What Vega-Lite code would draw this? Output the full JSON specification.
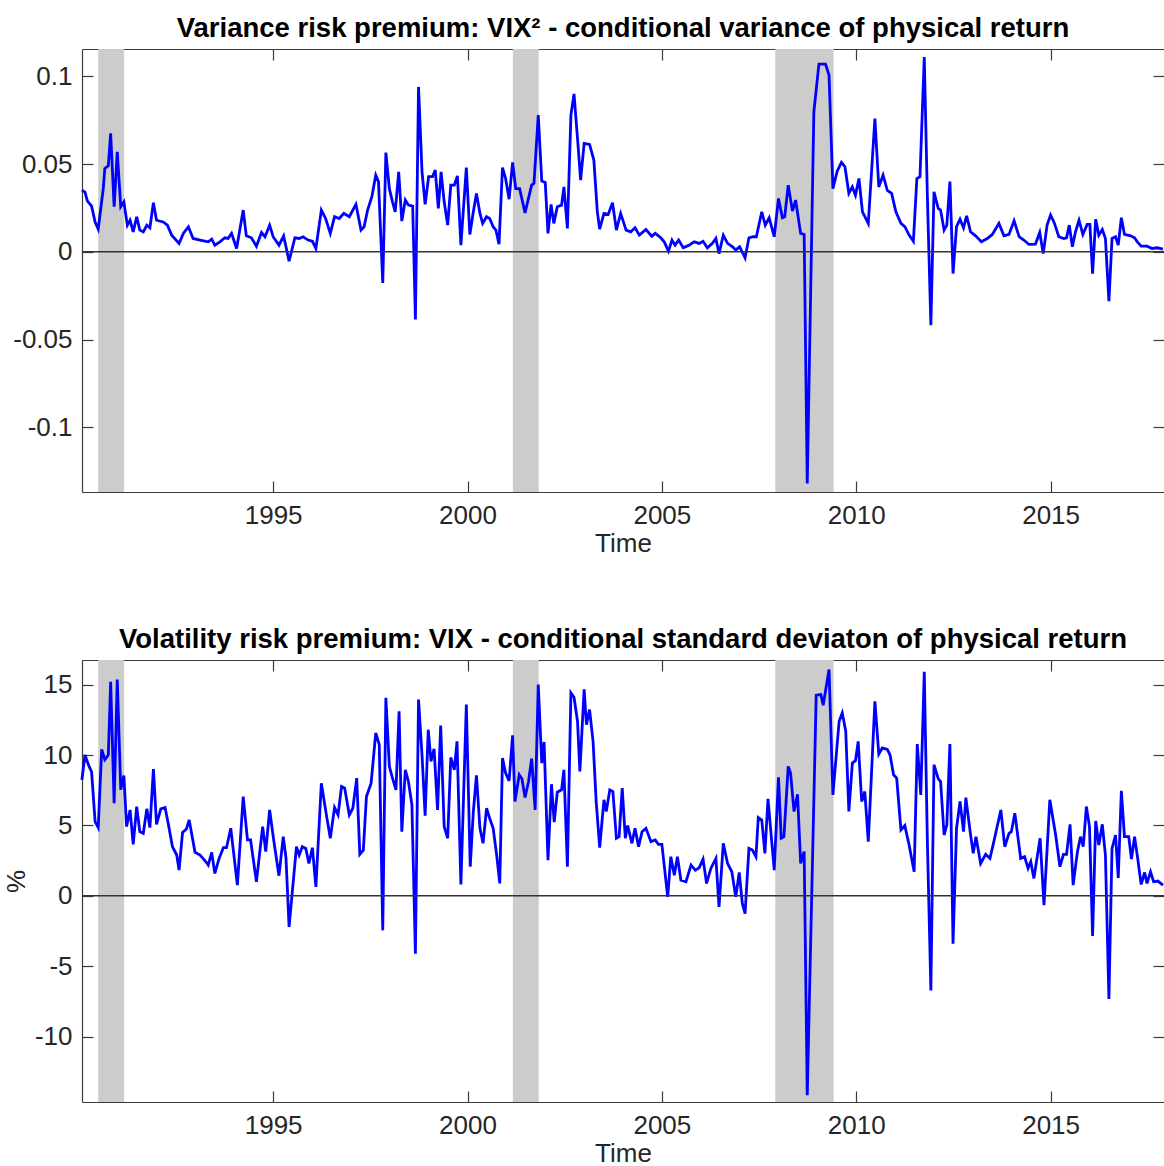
{
  "$schema": "https://vega.github.io/schema/vega-lite/v6.json",
  "background": "white",
  "padding": {"left": 3, "top": 14, "right": 0, "bottom": 0},
  "spacing": 69,
  "config": {
    "font": "Liberation Sans",
    "view": {"stroke": null},
    "axis": {
      "grid": false,
      "labelFont": "Liberation Sans",
      "labelFontSize": 26,
      "labelColor": "#262626",
      "titleFont": "Liberation Sans",
      "titleFontSize": 26,
      "titleFontWeight": "normal",
      "titleColor": "#262626",
      "domainColor": "#3a3a3a",
      "domainWidth": 1.2,
      "tickColor": "#3a3a3a",
      "tickWidth": 1.2,
      "tickSize": -11,
      "labelPadding": 21
    },
    "title": {"font": "Liberation Sans", "fontSize": 27.5, "fontWeight": "bold", "color": "#000000", "anchor": "middle", "offset": 6}
  },
  "datasets": {
    "rec": [{"s": 1990.5, "e": 1991.167}, {"s": 2001.167, "e": 2001.833}, {"s": 2007.917, "e": 2009.417}],
    "vrp": [
      {"t":1990.08,"v":0.0352},{"t":1990.16,"v":0.034},{"t":1990.22,"v":0.029},{"t":1990.33,"v":0.026},{"t":1990.42,"v":0.017},{"t":1990.50,"v":0.013},{"t":1990.63,"v":0.036},{"t":1990.67,"v":0.0475},{"t":1990.76,"v":0.049},{"t":1990.82,"v":0.0675},{"t":1990.91,"v":0.0257},{"t":1990.99,"v":0.057},{"t":1991.08,"v":0.0257},{"t":1991.16,"v":0.0285},{"t":1991.25,"v":0.0152},{"t":1991.32,"v":0.018},{"t":1991.40,"v":0.0114},{"t":1991.49,"v":0.02},{"t":1991.57,"v":0.0124},{"t":1991.66,"v":0.0114},{"t":1991.75,"v":0.0152},{"t":1991.83,"v":0.0137},{"t":1991.92,"v":0.028},{"t":1992.00,"v":0.018},{"t":1992.17,"v":0.017},{"t":1992.28,"v":0.0152},{"t":1992.39,"v":0.0095},{"t":1992.58,"v":0.0048},{"t":1992.69,"v":0.0105},{"t":1992.82,"v":0.0143},{"t":1992.94,"v":0.0076},{"t":1993.12,"v":0.0067},{"t":1993.33,"v":0.0057},{"t":1993.42,"v":0.0072},{"t":1993.50,"v":0.0038},{"t":1993.63,"v":0.0057},{"t":1993.76,"v":0.008},{"t":1993.84,"v":0.0076},{"t":1993.93,"v":0.0105},{"t":1994.06,"v":0.0019},{"t":1994.23,"v":0.0238},{"t":1994.31,"v":0.0091},{"t":1994.44,"v":0.008},{"t":1994.57,"v":0.0032},{"t":1994.70,"v":0.011},{"t":1994.79,"v":0.0086},{"t":1994.91,"v":0.0152},{"t":1995.00,"v":0.0086},{"t":1995.15,"v":0.0038},{"t":1995.27,"v":0.0091},{"t":1995.41,"v":-0.0053},{"t":1995.56,"v":0.008},{"t":1995.67,"v":0.0076},{"t":1995.77,"v":0.0086},{"t":1995.90,"v":0.0067},{"t":1996.01,"v":0.006},{"t":1996.10,"v":0.0019},{"t":1996.24,"v":0.0238},{"t":1996.35,"v":0.019},{"t":1996.47,"v":0.0105},{"t":1996.58,"v":0.02},{"t":1996.70,"v":0.019},{"t":1996.82,"v":0.022},
      {"t":1996.96,"v":0.02},{"t":1997.13,"v":0.027},{"t":1997.26,"v":0.0124},{"t":1997.34,"v":0.0143},{"t":1997.43,"v":0.0238},{"t":1997.54,"v":0.0314},{"t":1997.64,"v":0.0437},{"t":1997.71,"v":0.04},{"t":1997.82,"v":-0.0177},{"t":1997.90,"v":0.0566},{"t":1997.99,"v":0.036},{"t":1998.07,"v":0.0285},{"t":1998.14,"v":0.0228},{"t":1998.23,"v":0.0456},{"t":1998.31,"v":0.0175},{"t":1998.40,"v":0.0295},{"t":1998.48,"v":0.0266},{"t":1998.59,"v":0.026},{"t":1998.66,"v":-0.0386},{"t":1998.74,"v":0.094},{"t":1998.83,"v":0.0456},{"t":1998.91,"v":0.027},{"t":1999.00,"v":0.0428},{"t":1999.10,"v":0.0428},{"t":1999.17,"v":0.0466},{"t":1999.25,"v":0.0247},{"t":1999.32,"v":0.0456},{"t":1999.40,"v":0.0285},{"t":1999.49,"v":0.0152},{"t":1999.57,"v":0.038},{"t":1999.66,"v":0.038},{"t":1999.74,"v":0.0433},{"t":1999.83,"v":0.0038},{"t":1999.97,"v":0.048},{"t":2000.06,"v":0.0099},{"t":2000.15,"v":0.0228},{"t":2000.23,"v":0.0333},{"t":2000.32,"v":0.0219},{"t":2000.39,"v":0.0162},{"t":2000.49,"v":0.02},{"t":2000.57,"v":0.019},{"t":2000.66,"v":0.0143},{"t":2000.73,"v":0.0124},{"t":2000.81,"v":0.0044},{"t":2000.90,"v":0.048},{"t":2000.98,"v":0.0418},{"t":2001.07,"v":0.03},{"t":2001.16,"v":0.051},{"t":2001.24,"v":0.036},{"t":2001.34,"v":0.036},{"t":2001.48,"v":0.0222},{"t":2001.65,"v":0.038},{"t":2001.71,"v":0.039},{"t":2001.82,"v":0.0779},{"t":2001.91,"v":0.0403},{"t":2002.00,"v":0.0395},{"t":2002.07,"v":0.0105},{"t":2002.15,"v":0.027},{"t":2002.22,"v":0.0162},{"t":2002.31,"v":0.0257},{"t":2002.42,"v":0.0266},{"t":2002.48,"v":0.037},{"t":2002.57,"v":0.0133},{"t":2002.66,"v":0.0779},{"t":2002.74,"v":0.090},{"t":2002.83,"v":0.0646},{"t":2002.91,"v":0.0409},{"t":2003.00,"v":0.0618},{"t":2003.14,"v":0.0612},{"t":2003.25,"v":0.0523},{"t":2003.34,"v":0.0228},{"t":2003.40,"v":0.0129},{"t":2003.51,"v":0.0219},{"t":2003.62,"v":0.0213},{"t":2003.73,"v":0.028},{"t":2003.83,"v":0.0124},{"t":2003.94,"v":0.0219},
      {"t":2004.08,"v":0.0124},{"t":2004.20,"v":0.0114},{"t":2004.31,"v":0.0137},{"t":2004.42,"v":0.0095},{"t":2004.59,"v":0.0127},{"t":2004.74,"v":0.0089},{"t":2004.83,"v":0.0105},{"t":2004.97,"v":0.008},{"t":2005.06,"v":0.0057},{"t":2005.17,"v":0.0004},{"t":2005.26,"v":0.0067},{"t":2005.34,"v":0.0038},{"t":2005.43,"v":0.0067},{"t":2005.55,"v":0.0023},{"t":2005.70,"v":0.0038},{"t":2005.83,"v":0.0057},{"t":2005.96,"v":0.0048},{"t":2006.06,"v":0.006},{"t":2006.17,"v":0.0023},{"t":2006.30,"v":0.0048},{"t":2006.39,"v":0.0076},{"t":2006.47,"v":-0.001},{"t":2006.58,"v":0.0095},{"t":2006.69,"v":0.0048},{"t":2006.82,"v":0.0029},{"t":2006.90,"v":0.001},{"t":2007.00,"v":0.0029},{"t":2007.14,"v":-0.0034},{"t":2007.24,"v":0.008},{"t":2007.35,"v":0.0086},{"t":2007.43,"v":0.0086},{"t":2007.57,"v":0.0228},{"t":2007.66,"v":0.0152},{"t":2007.76,"v":0.0194},{"t":2007.89,"v":0.0086},{"t":2008.00,"v":0.0304},{"t":2008.10,"v":0.0194},{"t":2008.16,"v":0.02},{"t":2008.25,"v":0.038},{"t":2008.36,"v":0.0232},{"t":2008.44,"v":0.0295},{"t":2008.57,"v":0.0105},{"t":2008.66,"v":0.0099},{"t":2008.74,"v":-0.132},{"t":2008.91,"v":0.0798},{"t":2009.04,"v":0.107},{"t":2009.21,"v":0.107},{"t":2009.30,"v":0.1007},{"t":2009.40,"v":0.036},{"t":2009.51,"v":0.046},{"t":2009.62,"v":0.051},{"t":2009.71,"v":0.0485},{"t":2009.81,"v":0.0333},{"t":2009.90,"v":0.037},{"t":2009.98,"v":0.0323},{"t":2010.07,"v":0.0418},{"t":2010.16,"v":0.0228},{"t":2010.31,"v":0.0162},{"t":2010.48,"v":0.076},{"t":2010.58,"v":0.037},{"t":2010.69,"v":0.0437},
      {"t":2010.80,"v":0.035},{"t":2010.91,"v":0.0333},{"t":2011.02,"v":0.0228},{"t":2011.15,"v":0.0162},{"t":2011.25,"v":0.0143},{"t":2011.36,"v":0.0095},{"t":2011.47,"v":0.006},{"t":2011.56,"v":0.0418},{"t":2011.64,"v":0.0428},{"t":2011.75,"v":0.111},{"t":2011.83,"v":0.0314},{"t":2011.92,"v":-0.0418},{"t":2012.00,"v":0.0342},{"t":2012.11,"v":0.0247},{"t":2012.17,"v":0.0238},{"t":2012.26,"v":0.0124},{"t":2012.33,"v":0.0152},{"t":2012.41,"v":0.04},{"t":2012.49,"v":-0.0124},{"t":2012.58,"v":0.0143},{"t":2012.67,"v":0.0186},{"t":2012.76,"v":0.0137},{"t":2012.84,"v":0.0205},{"t":2012.94,"v":0.0114},{"t":2013.07,"v":0.0091},{"t":2013.22,"v":0.0057},{"t":2013.37,"v":0.0076},{"t":2013.50,"v":0.0099},{"t":2013.67,"v":0.0162},{"t":2013.80,"v":0.0091},{"t":2013.93,"v":0.0099},{"t":2014.06,"v":0.0177},{"t":2014.19,"v":0.0086},{"t":2014.31,"v":0.0067},{"t":2014.44,"v":0.0042},{"t":2014.61,"v":0.0044},{"t":2014.72,"v":0.011},{"t":2014.81,"v":-0.001},{"t":2014.91,"v":0.0152},{"t":2015.00,"v":0.021},{"t":2015.10,"v":0.0162},{"t":2015.21,"v":0.0086},{"t":2015.34,"v":0.0076},{"t":2015.41,"v":0.008},{"t":2015.48,"v":0.0152},{"t":2015.56,"v":0.0029},{"t":2015.64,"v":0.0114},{"t":2015.73,"v":0.018},{"t":2015.83,"v":0.0099},{"t":2015.94,"v":0.0156},{"t":2016.01,"v":0.0156},{"t":2016.08,"v":-0.0124},{"t":2016.16,"v":0.0186},{"t":2016.24,"v":0.0095},{"t":2016.33,"v":0.0127},{"t":2016.41,"v":0.0076},{"t":2016.50,"v":-0.0281},{"t":2016.58,"v":0.0076},{"t":2016.67,"v":0.0086},{"t":2016.74,"v":0.0038},{"t":2016.82,"v":0.0194},{"t":2016.90,"v":0.0099},{"t":2017.06,"v":0.0091},{"t":2017.16,"v":0.008},{"t":2017.23,"v":0.0057},{"t":2017.33,"v":0.0032},{"t":2017.48,"v":0.0032},{"t":2017.61,"v":0.0019},{"t":2017.74,"v":0.0023},{"t":2017.89,"v":0.0015}
    ],
    "vol": [
      {"t":1990.08,"v":8.24},{"t":1990.16,"v":10.0},{"t":1990.25,"v":9.3},{"t":1990.33,"v":8.8},{"t":1990.42,"v":5.27},{"t":1990.50,"v":4.85},{"t":1990.59,"v":10.4},{"t":1990.67,"v":9.67},{"t":1990.76,"v":10.0},{"t":1990.82,"v":15.2},{"t":1990.91,"v":6.58},{"t":1990.99,"v":15.37},{"t":1991.08,"v":7.53},{"t":1991.16,"v":8.55},{"t":1991.23,"v":4.92},{"t":1991.32,"v":6.1},{"t":1991.40,"v":3.66},{"t":1991.49,"v":6.34},{"t":1991.57,"v":4.56},{"t":1991.66,"v":4.44},{"t":1991.75,"v":6.18},{"t":1991.83,"v":4.85},{"t":1991.92,"v":9.0},{"t":1992.00,"v":5.08},{"t":1992.11,"v":6.18},{"t":1992.22,"v":6.27},{"t":1992.30,"v":5.15},{"t":1992.41,"v":3.49},{"t":1992.52,"v":2.9},{"t":1992.58,"v":1.83},{"t":1992.67,"v":4.51},{"t":1992.77,"v":4.75},{"t":1992.84,"v":5.39},{"t":1992.99,"v":3.09},{"t":1993.12,"v":2.9},{"t":1993.27,"v":2.42},{"t":1993.33,"v":2.19},{"t":1993.42,"v":3.09},{"t":1993.50,"v":1.59},{"t":1993.61,"v":2.66},{"t":1993.72,"v":3.42},{"t":1993.80,"v":3.42},{"t":1993.91,"v":4.8},{"t":1994.08,"v":0.76},{"t":1994.23,"v":7.05},{"t":1994.34,"v":3.97},{"t":1994.42,"v":3.97},{"t":1994.57,"v":1.0},{"t":1994.73,"v":4.92},{"t":1994.81,"v":3.14},{"t":1994.91,"v":6.1},{"t":1995.02,"v":3.85},{"t":1995.15,"v":1.43},{"t":1995.26,"v":4.2},{"t":1995.33,"v":2.71},{"t":1995.41,"v":-2.21},{"t":1995.60,"v":3.49},{"t":1995.67,"v":2.9},{"t":1995.75,"v":3.49},{"t":1995.84,"v":3.37},{"t":1995.92,"v":2.3},{"t":1996.01,"v":3.42},{"t":1996.10,"v":0.64},{"t":1996.24,"v":8.0},{"t":1996.37,"v":5.75},{"t":1996.47,"v":4.09},{"t":1996.58,"v":6.27},{"t":1996.67,"v":5.75},{"t":1996.76,"v":7.77},{"t":1996.84,"v":7.65},
      {"t":1996.96,"v":5.75},{"t":1997.05,"v":6.22},{"t":1997.15,"v":8.36},{"t":1997.23,"v":2.95},{"t":1997.32,"v":3.25},{"t":1997.40,"v":7.05},{"t":1997.52,"v":8.0},{"t":1997.64,"v":11.57},{"t":1997.73,"v":10.74},{"t":1997.82,"v":-2.45},{"t":1997.90,"v":14.06},{"t":1997.99,"v":9.19},{"t":1998.07,"v":8.36},{"t":1998.16,"v":7.53},{"t":1998.24,"v":13.1},{"t":1998.31,"v":4.56},{"t":1998.40,"v":8.95},{"t":1998.48,"v":8.12},{"t":1998.57,"v":6.46},{"t":1998.66,"v":-4.11},{"t":1998.74,"v":13.94},{"t":1998.83,"v":10.0},{"t":1998.91,"v":5.7},{"t":1998.99,"v":11.8},{"t":1999.06,"v":9.55},{"t":1999.14,"v":10.45},{"t":1999.23,"v":6.1},{"t":1999.31,"v":12.1},{"t":1999.40,"v":4.92},{"t":1999.49,"v":4.09},{"t":1999.57,"v":9.83},{"t":1999.66,"v":8.95},{"t":1999.73,"v":10.97},{"t":1999.83,"v":0.81},{"t":1999.97,"v":13.59},{"t":2000.07,"v":2.07},{"t":2000.15,"v":5.99},{"t":2000.23,"v":8.55},{"t":2000.32,"v":4.8},{"t":2000.40,"v":3.73},{"t":2000.49,"v":6.22},{"t":2000.57,"v":5.51},{"t":2000.66,"v":4.8},{"t":2000.75,"v":2.9},{"t":2000.83,"v":0.88},{"t":2000.90,"v":9.79},{"t":2000.98,"v":8.72},{"t":2001.07,"v":8.17},{"t":2001.16,"v":11.4},{"t":2001.22,"v":6.7},{"t":2001.33,"v":8.6},{"t":2001.40,"v":8.31},{"t":2001.48,"v":6.98},{"t":2001.57,"v":8.12},{"t":2001.65,"v":9.74},{"t":2001.74,"v":6.1},{"t":2001.82,"v":15.0},{"t":2001.91,"v":9.43},{"t":2001.97,"v":10.93},{"t":2002.07,"v":2.54},{"t":2002.16,"v":7.93},{"t":2002.23,"v":5.23},{"t":2002.31,"v":7.36},{"t":2002.42,"v":7.53},{"t":2002.48,"v":8.95},{"t":2002.57,"v":2.07},{"t":2002.66,"v":14.42},{"t":2002.74,"v":14.1},{"t":2002.83,"v":12.4},{"t":2002.89,"v":8.84},{"t":2003.00,"v":14.66},{"t":2003.06,"v":12.16},{"t":2003.14,"v":13.23},{"t":2003.23,"v":10.97},{"t":2003.31,"v":6.7},{"t":2003.40,"v":3.42},{"t":2003.51,"v":6.82},{"t":2003.57,"v":5.99},{"t":2003.66,"v":7.53},{"t":2003.74,"v":7.41},{"t":2003.83,"v":4.09},{"t":2003.90,"v":4.2},{"t":2003.98,"v":7.65},
      {"t":2004.06,"v":4.09},{"t":2004.12,"v":4.99},{"t":2004.23,"v":3.73},{"t":2004.31,"v":4.8},{"t":2004.40,"v":3.49},{"t":2004.49,"v":4.56},{"t":2004.59,"v":4.8},{"t":2004.72,"v":3.85},{"t":2004.83,"v":3.97},{"t":2004.91,"v":3.66},{"t":2005.00,"v":3.66},{"t":2005.15,"v":-0.07},{"t":2005.23,"v":2.78},{"t":2005.32,"v":1.47},{"t":2005.40,"v":2.78},{"t":2005.49,"v":1.12},{"t":2005.62,"v":1.0},{"t":2005.75,"v":2.19},{"t":2005.86,"v":1.83},{"t":2005.96,"v":2.0},{"t":2006.06,"v":2.61},{"t":2006.15,"v":0.88},{"t":2006.26,"v":1.95},{"t":2006.39,"v":2.66},{"t":2006.47,"v":-0.78},{"t":2006.58,"v":3.73},{"t":2006.69,"v":2.3},{"t":2006.80,"v":1.71},{"t":2006.90,"v":-0.07},{"t":2006.99,"v":1.66},{"t":2007.07,"v":-0.55},{"t":2007.14,"v":-1.26},{"t":2007.24,"v":3.37},{"t":2007.33,"v":3.25},{"t":2007.42,"v":2.78},{"t":2007.48,"v":5.56},{"t":2007.57,"v":5.39},{"t":2007.65,"v":3.02},{"t":2007.73,"v":6.89},{"t":2007.89,"v":1.83},{"t":2008.00,"v":8.41},{"t":2008.07,"v":4.09},{"t":2008.14,"v":4.2},{"t":2008.25,"v":9.19},{"t":2008.31,"v":8.72},{"t":2008.40,"v":5.99},{"t":2008.49,"v":7.22},{"t":2008.57,"v":2.3},{"t":2008.66,"v":3.14},{"t":2008.74,"v":-14.16},{"t":2008.97,"v":14.25},{"t":2009.09,"v":14.3},{"t":2009.15,"v":13.54},{"t":2009.30,"v":16.08},{"t":2009.40,"v":7.17},{"t":2009.56,"v":12.4},{"t":2009.64,"v":12.99},{"t":2009.73,"v":11.69},{"t":2009.81,"v":5.99},{"t":2009.90,"v":9.43},{"t":2009.98,"v":9.6},{"t":2010.05,"v":10.97},{"t":2010.14,"v":6.7},{"t":2010.22,"v":7.41},{"t":2010.31,"v":3.85},{"t":2010.48,"v":13.82},{"t":2010.58,"v":10.07},{"t":2010.67,"v":10.5},
      {"t":2010.80,"v":10.4},{"t":2010.87,"v":10.0},{"t":2010.96,"v":8.6},{"t":2011.04,"v":8.36},{"t":2011.15,"v":4.68},{"t":2011.25,"v":4.99},{"t":2011.36,"v":3.61},{"t":2011.49,"v":1.71},{"t":2011.57,"v":10.78},{"t":2011.66,"v":7.17},{"t":2011.75,"v":15.91},{"t":2011.83,"v":3.85},{"t":2011.92,"v":-6.72},{"t":2012.00,"v":9.31},{"t":2012.11,"v":8.31},{"t":2012.17,"v":8.12},{"t":2012.26,"v":4.32},{"t":2012.33,"v":5.04},{"t":2012.41,"v":10.78},{"t":2012.49,"v":-3.4},{"t":2012.58,"v":4.8},{"t":2012.67,"v":6.7},{"t":2012.76,"v":4.56},{"t":2012.82,"v":6.98},{"t":2012.93,"v":4.56},{"t":2013.01,"v":3.02},{"t":2013.08,"v":4.2},{"t":2013.20,"v":2.3},{"t":2013.33,"v":2.95},{"t":2013.44,"v":2.66},{"t":2013.54,"v":3.85},{"t":2013.72,"v":6.1},{"t":2013.82,"v":3.49},{"t":2013.93,"v":4.44},{"t":2013.99,"v":4.56},{"t":2014.08,"v":5.87},{"t":2014.23,"v":2.66},{"t":2014.33,"v":2.78},{"t":2014.42,"v":1.95},{"t":2014.49,"v":2.42},{"t":2014.57,"v":1.24},{"t":2014.73,"v":4.09},{"t":2014.83,"v":-0.67},{"t":2014.98,"v":6.82},{"t":2015.13,"v":4.32},{"t":2015.24,"v":2.07},{"t":2015.33,"v":2.95},{"t":2015.41,"v":2.95},{"t":2015.50,"v":5.08},{"t":2015.58,"v":0.76},{"t":2015.69,"v":3.14},{"t":2015.77,"v":4.2},{"t":2015.84,"v":3.49},{"t":2015.92,"v":6.34},{"t":2016.00,"v":4.92},{"t":2016.08,"v":-2.85},{"t":2016.16,"v":5.32},{"t":2016.24,"v":3.61},{"t":2016.33,"v":5.08},{"t":2016.41,"v":2.9},{"t":2016.50,"v":-7.32},{"t":2016.58,"v":3.37},{"t":2016.67,"v":4.32},{"t":2016.74,"v":1.28},{"t":2016.82,"v":7.46},{"t":2016.90,"v":4.2},{"t":2017.01,"v":4.2},{"t":2017.08,"v":2.61},{"t":2017.16,"v":4.2},{"t":2017.24,"v":2.66},{"t":2017.33,"v":0.81},{"t":2017.42,"v":1.66},{"t":2017.48,"v":0.88},{"t":2017.57,"v":1.71},{"t":2017.65,"v":1.0},{"t":2017.76,"v":1.05},{"t":2017.89,"v":0.76}
    ]
  },
  "vconcat": [
    {
      "width": 1082,
      "height": 443,
      "title": {"text": "Variance risk premium: VIX² - conditional variance of physical return"},
      "layer": [
        {
          "data": {"name": "rec"},
          "mark": {"type": "rect", "color": "#cccccc"},
          "encoding": {
            "x": {"field": "s", "type": "quantitative", "scale": {"domain": [1990.083, 2017.917], "nice": false, "zero": false},
                  "axis": {"orient": "bottom", "values": [1995, 2000, 2005, 2010, 2015], "format": "d", "title": "Time", "titlePadding": 2}},
            "x2": {"field": "e"}
          }
        },
        {
          "data": {"name": "vrp"},
          "mark": {"type": "line", "color": "#0000ff", "strokeWidth": 2.8},
          "encoding": {
            "x": {"field": "t", "type": "quantitative", "scale": {"domain": [1990.083, 2017.917], "nice": false, "zero": false},
                  "axis": {"orient": "top", "values": [1995, 2000, 2005, 2010, 2015], "labels": false, "title": null}},
            "y": {"field": "v", "type": "quantitative", "scale": {"domain": [-0.1369, 0.1156], "nice": false, "zero": false},
                  "axis": {"orient": "left", "values": [-0.1, -0.05, 0, 0.05, 0.1], "labelExpr": "toString(datum.value)", "title": null}}
          }
        },
        {
          "data": {"values": [{"z": 0}]},
          "mark": {"type": "rule", "color": "#333333", "strokeWidth": 1.5},
          "encoding": {
            "y": {"field": "z", "type": "quantitative", "scale": {"domain": [-0.1369, 0.1156], "nice": false, "zero": false},
                  "axis": {"orient": "right", "values": [-0.1, -0.05, 0, 0.05, 0.1], "labels": false, "title": null, "domain": false}}
          }
        }
      ],
      "resolve": {"axis": {"x": "independent", "y": "independent"}}
    },
    {
      "width": 1082,
      "height": 442,
      "title": {"text": "Volatility risk premium: VIX - conditional standard deviaton of physical return"},
      "layer": [
        {
          "data": {"name": "rec"},
          "mark": {"type": "rect", "color": "#cccccc"},
          "encoding": {
            "x": {"field": "s", "type": "quantitative", "scale": {"domain": [1990.083, 2017.917], "nice": false, "zero": false},
                  "axis": {"orient": "bottom", "values": [1995, 2000, 2005, 2010, 2015], "format": "d", "title": "Time", "titlePadding": 2}},
            "x2": {"field": "e"}
          }
        },
        {
          "data": {"name": "vol"},
          "mark": {"type": "line", "color": "#0000ff", "strokeWidth": 2.8},
          "encoding": {
            "x": {"field": "t", "type": "quantitative", "scale": {"domain": [1990.083, 2017.917], "nice": false, "zero": false},
                  "axis": {"orient": "top", "values": [1995, 2000, 2005, 2010, 2015], "labels": false, "title": null}},
            "y": {"field": "v", "type": "quantitative", "scale": {"domain": [-14.64, 16.75], "nice": false, "zero": false},
                  "axis": {"orient": "left", "values": [-10, -5, 0, 5, 10, 15], "labelExpr": "toString(datum.value)", "title": "%", "titlePadding": 5}}
          }
        },
        {
          "data": {"values": [{"z": 0}]},
          "mark": {"type": "rule", "color": "#333333", "strokeWidth": 1.5},
          "encoding": {
            "y": {"field": "z", "type": "quantitative", "scale": {"domain": [-14.64, 16.75], "nice": false, "zero": false},
                  "axis": {"orient": "right", "values": [-10, -5, 0, 5, 10, 15], "labels": false, "title": null, "domain": false}}
          }
        }
      ],
      "resolve": {"axis": {"x": "independent", "y": "independent"}}
    }
  ]
}
